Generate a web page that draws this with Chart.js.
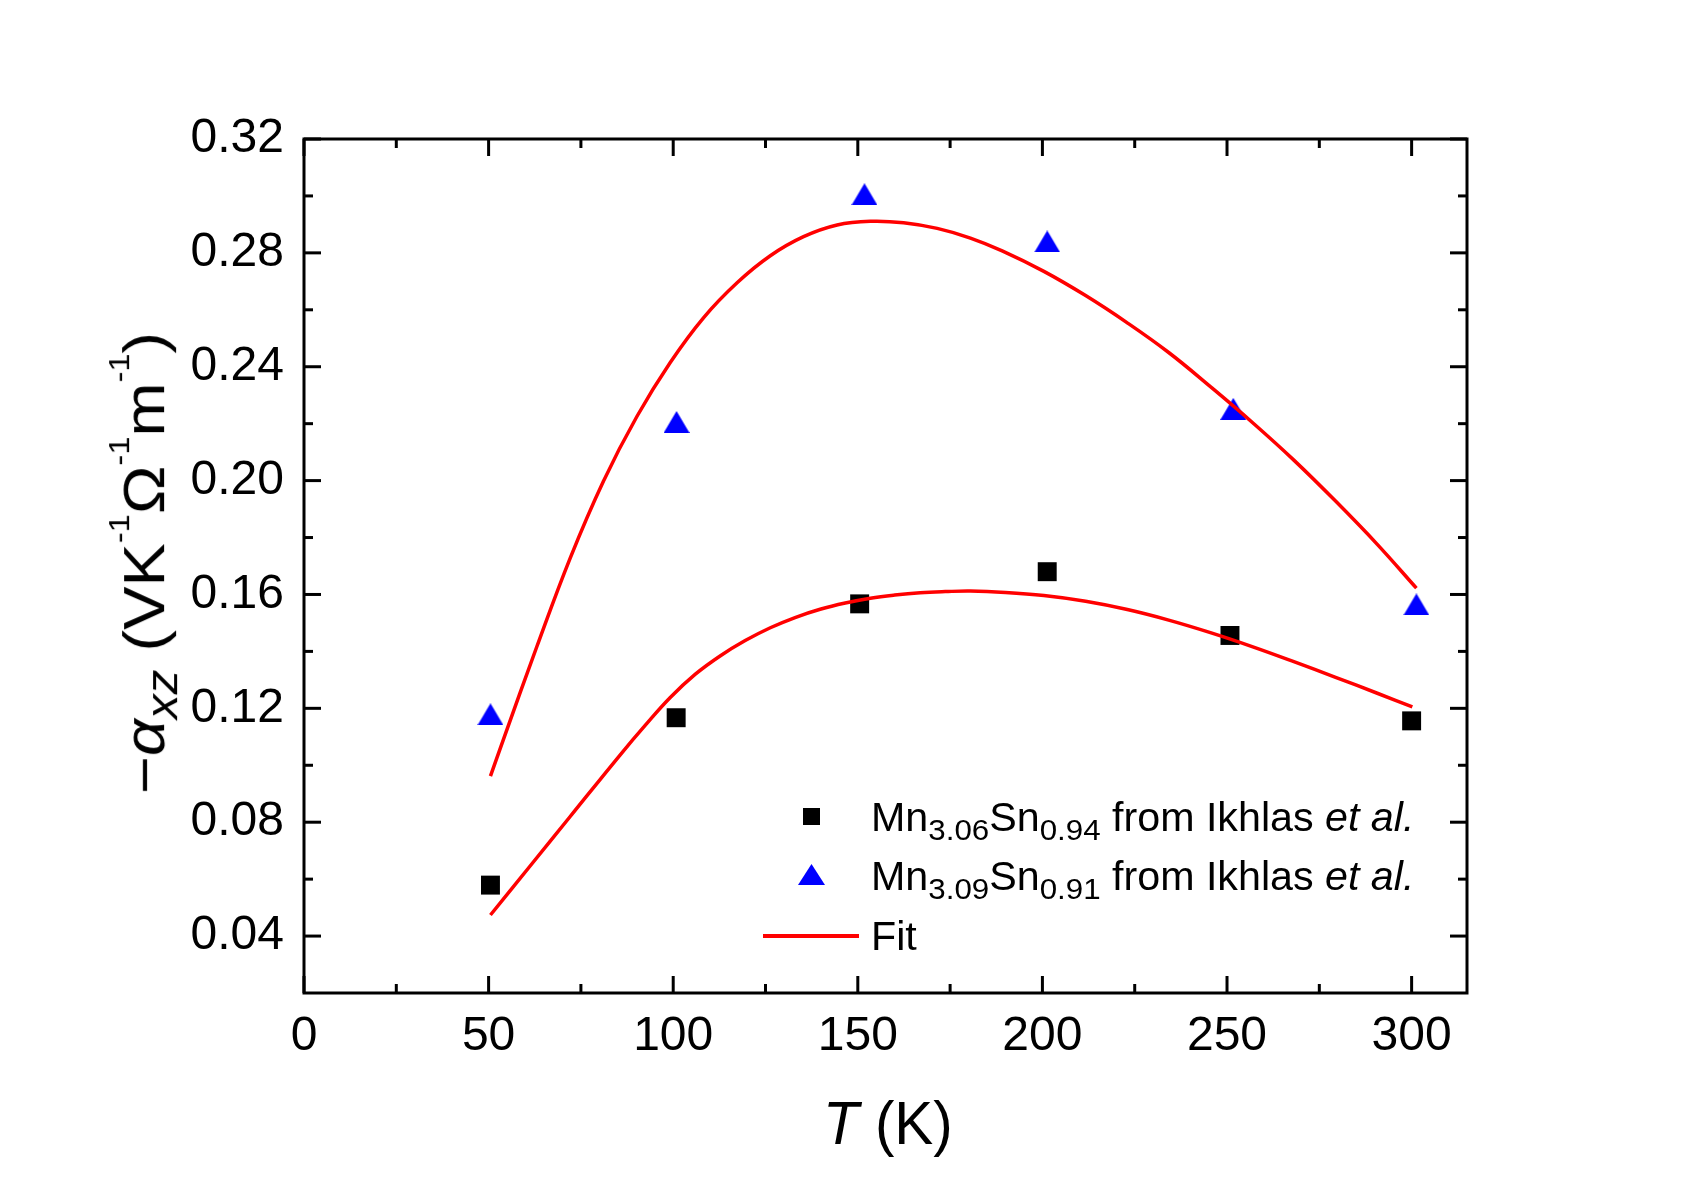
<!DOCTYPE html>
<html>
<head>
<meta charset="utf-8">
<script src="https://cdn.jsdelivr.net/npm/chart.js@4.4.1/dist/chart.umd.min.js"></script>
<style>
  body { margin: 0; background: #fff; }
  #wrap { position: relative; width: 1705px; height: 1192px; font-family: "Liberation Sans", Arial, sans-serif; color: #000; }
  #wrap canvas { position: absolute; left: 0; top: 0; }
  .lbl { position: absolute; white-space: nowrap; line-height: 1; }
  .lbl .sub { position: relative; top: 0.3em; font-size: 0.76em; }
  .lbl .sup { position: relative; top: -1.2em; font-size: 0.5em; }
  .sym { position: absolute; }
</style>
</head>
<body>
<div id="wrap">
  <canvas id="chart" width="1705" height="1192"></canvas>

  <div class="sym" style="left:803px; top:808px; width:17px; height:17px; background:#000;"></div>
  <svg class="sym" style="left:798px; top:864px;" width="27" height="21"><polygon points="0,21 13.5,0 27,21" fill="#0000ff"/></svg>
  <div class="sym" style="left:763px; top:934px; width:96px; height:3.5px; background:#ff0000;"></div>

  <div class="lbl leg" id="leg1">Mn<span class="sub">3.06</span>Sn<span class="sub">0.94</span> from Ikhlas <i>et al.</i></div>
  <div class="lbl leg" id="leg2">Mn<span class="sub">3.09</span>Sn<span class="sub">0.91</span> from Ikhlas <i>et al.</i></div>
  <div class="lbl leg" id="leg3">Fit</div>

  <div class="lbl" id="xtitle"><i>T</i> (K)</div>
  <div class="lbl" id="ytitle">&minus;<i>&alpha;</i><span class="sub"><i>xz</i></span> (VK<span class="sup">-1</span>&Omega;<span class="sup">-1</span>m<span class="sup">-1</span>)</div>
</div>

<script>
// measured points, Mn3.06Sn0.94 (squares)
const sqT = [50.5, 100.8, 150.5, 201.3, 250.8, 300.0]
const sqV = [0.0579, 0.1167, 0.1567, 0.1680, 0.1456, 0.1156]

// measured points, Mn3.09Sn0.91 (triangles)
const triT = [50.5, 100.9, 151.8, 201.3, 251.7, 301.3]
const triV = [0.1179, 0.2206, 0.3006, 0.2840, 0.2252, 0.1565]

// fit curves
const fitHighT = [50.5, 54, 63.1, 72.1, 81.1, 90.2, 99.2, 108.2, 117.3, 126.3, 135.3, 144.4, 153.4, 162.4, 171.5, 180.5, 189.1, 200.4, 211.7, 222.9, 234.2, 245.5, 256.8, 268.1, 279.4, 290.7, 301.3]
const fitHighV = [0.0962, 0.1090, 0.1418, 0.1728, 0.1998, 0.2226, 0.2415, 0.2572, 0.2695, 0.2790, 0.2857, 0.2898, 0.2911, 0.2906, 0.2886, 0.2852, 0.2807, 0.2735, 0.2650, 0.2555, 0.2450, 0.2330, 0.2205, 0.2072, 0.1928, 0.1776, 0.1622]
const fitLowT = [50.5, 61.3, 72.1, 85.6, 92.4, 99.2, 106, 112.7, 119.5, 126.3, 133, 139.8, 146.6, 153.4, 160, 166.9, 173.7, 180.5, 190, 200.4, 211.7, 223, 234.2, 245.5, 256.8, 268.1, 279.4, 290.7, 300.2]
const fitLowV = [0.0474, 0.0647, 0.0820, 0.1036, 0.1140, 0.1238, 0.1320, 0.1384, 0.1438, 0.1483, 0.1519, 0.1548, 0.1570, 0.1587, 0.1598, 0.1606, 0.1610, 0.1612, 0.1607, 0.1596, 0.1576, 0.1547, 0.1510, 0.1466, 0.1417, 0.1364, 0.1309, 0.1253, 0.1205]

const xTicks = [0, 50, 100, 150, 200, 250, 300]
const xMinor = [25, 75, 125, 175, 225, 275]
const yTicks = [0.04, 0.08, 0.12, 0.16, 0.20, 0.24, 0.28, 0.32]
const yMinor = [0.06, 0.10, 0.14, 0.18, 0.22, 0.26, 0.30]

const pts = (xs, ys) => xs.map((x, i) => ({ x: x, y: ys[i] }))

// blue triangle marker, centred on its bounding box like the original
const tri = document.createElement("canvas")
tri.width = 26
tri.height = 22
const tctx = tri.getContext("2d")
tctx.fillStyle = "#0000ff"
tctx.beginPath()
tctx.moveTo(0, 22)
tctx.lineTo(13, 0)
tctx.lineTo(26, 22)
tctx.closePath()
tctx.fill()

const FONT = "'Liberation Sans', Arial, sans-serif"

// frame with inward ticks on all four sides
const framePlugin = {
  id: "frame",
  afterDatasetsDraw(chart) {
    const { ctx, chartArea: a, scales } = chart
    const xs = scales.x, ys = scales.y
    ctx.save()
    ctx.strokeStyle = "#000"
    ctx.lineWidth = 3
    ctx.strokeRect(a.left, a.top, a.right - a.left, a.bottom - a.top)
    const tick = (x1, y1, x2, y2) => {
      ctx.beginPath()
      ctx.moveTo(x1, y1)
      ctx.lineTo(x2, y2)
      ctx.stroke()
    }
    const xMarks = xTicks.map(v => [v, 17]).concat(xMinor.map(v => [v, 9]))
    xMarks.forEach(([v, len]) => {
      const px = xs.getPixelForValue(v)
      tick(px, a.bottom, px, a.bottom - len)
      tick(px, a.top, px, a.top + len)
    })
    const yMarks = yTicks.map(v => [v, 17]).concat(yMinor.map(v => [v, 9]))
    yMarks.forEach(([v, len]) => {
      const py = ys.getPixelForValue(v)
      tick(a.left, py, a.left + len, py)
      tick(a.right, py, a.right - len, py)
    })
    ctx.restore()
  }
}

const fitLine = (xs, ys) => ({
  label: "Fit",
  data: pts(xs, ys),
  showLine: true,
  borderColor: "#ff0000",
  borderWidth: 3.5,
  pointRadius: 0,
  tension: 0.4
})

new Chart(document.getElementById("chart"), {
  type: "scatter",
  data: {
    datasets: [
      fitLine(fitHighT, fitHighV),
      fitLine(fitLowT, fitLowV),
      {
        label: "Mn3.06Sn0.94 from Ikhlas et al.",
        data: pts(sqT, sqV),
        pointStyle: "rect",
        pointRadius: 13.4,
        pointBorderWidth: 0,
        backgroundColor: "#000",
        borderColor: "#000"
      },
      {
        label: "Mn3.09Sn0.91 from Ikhlas et al.",
        data: pts(triT, triV),
        pointStyle: tri,
        pointRadius: 13,
        backgroundColor: "#0000ff",
        borderColor: "#0000ff"
      }
    ]
  },
  options: {
    responsive: false,
    animation: false,
    devicePixelRatio: 1,
    layout: { padding: { left: 0, top: 139, right: 238, bottom: 0 } },
    plugins: {
      legend: { display: false },
      tooltip: { enabled: false }
    },
    scales: {
      x: {
        type: "linear",
        min: 0,
        max: 315,
        afterBuildTicks: s => { s.ticks = xTicks.map(v => ({ value: v })) },
        afterFit: s => { s.height = 199 },
        grid: { display: false, drawTicks: false },
        border: { display: false },
        ticks: {
          padding: 15,
          maxRotation: 0,
          autoSkip: false,
          color: "#000",
          font: { family: FONT, size: 48 },
          callback: v => String(v)
        }
      },
      y: {
        type: "linear",
        min: 0.02,
        max: 0.32,
        afterBuildTicks: s => { s.ticks = yTicks.map(v => ({ value: v })) },
        afterFit: s => { s.width = 304 },
        grid: { display: false, drawTicks: false },
        border: { display: false },
        ticks: {
          padding: 20,
          autoSkip: false,
          color: "#000",
          font: { family: FONT, size: 48 },
          callback: v => v.toFixed(2)
        }
      }
    }
  },
  plugins: [framePlugin]
})

// place the html text pieces: baseline of a line-height:1 box sits at 0.8465 em
function atBaseline(el, fs, baseline) {
  el.style.fontSize = fs + "px"
  el.style.top = (baseline - 0.8465 * fs) + "px"
}

// legend rows
const legFs = 40
const legRows = [["leg1", 831], ["leg2", 890], ["leg3", 950]]
legRows.forEach(([id, b]) => {
  const el = document.getElementById(id)
  atBaseline(el, legFs, b)
  el.style.left = "871px"
})
const legScale = 543 / document.getElementById("leg1").offsetWidth
legRows.forEach(([id]) => {
  const el = document.getElementById(id)
  el.style.transformOrigin = "0 0"
  el.style.transform = "scaleX(" + legScale + ")"
})

// x title
const xt = document.getElementById("xtitle")
atBaseline(xt, 62, 1144)
const xw = xt.offsetWidth
xt.style.left = (888 - xw / 2) + "px"
xt.style.transformOrigin = "50% 50%"
xt.style.transform = "scaleX(" + (130 / xw) + ")"

// y title, rotated
const yt = document.getElementById("ytitle")
const yFs = 58
yt.style.fontSize = yFs + "px"
const yw = yt.offsetWidth
const yh = yt.offsetHeight
const ycx = 164 - (0.8465 - 0.5) * yFs
yt.style.left = (ycx - yw / 2) + "px"
yt.style.top = (563 - yh / 2) + "px"
yt.style.transformOrigin = "50% 50%"
yt.style.transform = "rotate(-90deg) scaleX(" + (462 / yw) + ")"
</script>
</body>
</html>
